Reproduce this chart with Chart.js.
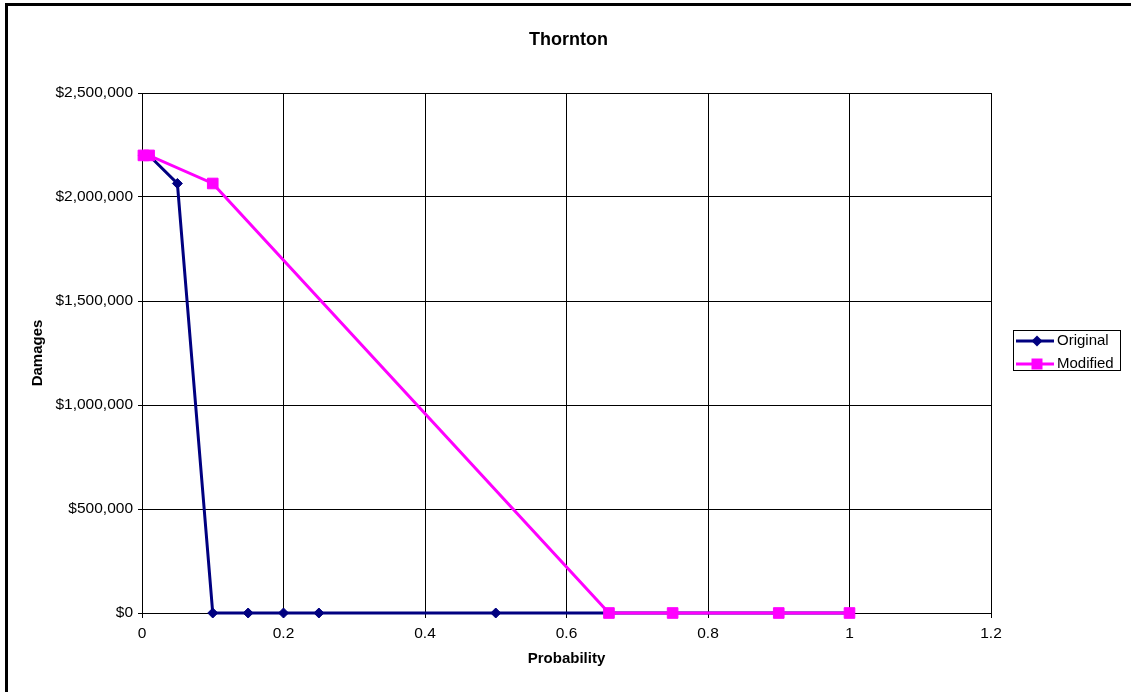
<!DOCTYPE html>
<html>
<head>
<meta charset="utf-8">
<title>Thornton</title>
<script src="https://cdn.jsdelivr.net/npm/chart.js@4.4.1/dist/chart.umd.min.js"></script>
<style>
html, body { margin: 0; padding: 0; background: #fff; overflow: hidden; }
#wrap { position: relative; width: 1131px; height: 692px; }
#frame { position: absolute; left: 5px; top: 3px; width: 1200px; height: 800px; border: 3px solid #000; box-sizing: border-box; pointer-events: none; }
</style>
</head>
<body>
<div id="wrap">
  <canvas id="myChart" width="1131" height="692"></canvas>
  <div id="frame"></div>
</div>
<script>
// values
var origProb = [0.002, 0.01, 0.05, 0.1, 0.15, 0.2, 0.25, 0.5, 0.66, 0.75, 0.9, 1];
var origDamages = [2200000, 2200000, 2065000, 0, 0, 0, 0, 0, 0, 0, 0, 0];
var modProb = [0.002, 0.01, 0.1, 0.66, 0.75, 0.9, 1];
var modDamages = [2200000, 2200000, 2065000, 0, 0, 0, 0];
var seriesNames = ['Original', 'Modified'];

function toPoints(xs, ys) {
    var pts = [];
    for (var i = 0; i < xs.length; i++) pts.push({ x: xs[i], y: ys[i] });
    return pts;
}

Chart.defaults.font.family = '"Liberation Sans", Arial, sans-serif';
Chart.defaults.color = '#000';

// excel style legend: boxed, line with marker through it
var boxLegend = {
    id: 'boxLegend',
    afterDraw: function (chart) {
        var ctx = chart.ctx;
        var left = 1013, top = 330, w = 107, h = 40;
        ctx.save();
        ctx.strokeStyle = '#000';
        ctx.lineWidth = 1;
        ctx.strokeRect(left + 0.5, top + 0.5, w, h);
        ctx.font = '15px "Liberation Sans", Arial, sans-serif';
        ctx.textBaseline = 'middle';
        ctx.textAlign = 'left';
        chart.data.datasets.forEach(function (ds, i) {
            var y = top + 11 + i * 23;
            ctx.strokeStyle = ds.borderColor;
            ctx.lineWidth = ds.borderWidth;
            ctx.beginPath();
            ctx.moveTo(left + 3, y);
            ctx.lineTo(left + 41, y);
            ctx.stroke();
            ctx.fillStyle = ds.borderColor;
            var cx = left + 24;
            ctx.beginPath();
            if (ds.pointStyle === 'rectRot') {
                ctx.moveTo(cx, y - 5.5);
                ctx.lineTo(cx + 5.5, y);
                ctx.lineTo(cx, y + 5.5);
                ctx.lineTo(cx - 5.5, y);
                ctx.closePath();
            } else {
                ctx.rect(cx - 5.5, y - 5.5, 11, 11);
            }
            ctx.fill();
            ctx.fillStyle = '#000';
            ctx.fillText(ds.label, left + 44, y);
        });
        ctx.restore();
    }
};

var ctx = document.getElementById('myChart').getContext('2d');
var myChart = new Chart(ctx, {
    type: 'line',
    data: {
        datasets: [
            {
                label: seriesNames[0],
                data: toPoints(origProb, origDamages),
                borderColor: '#000080',
                backgroundColor: '#000080',
                borderWidth: 3,
                pointStyle: 'rectRot',
                pointRadius: 5,
                pointBorderWidth: 1,
                tension: 0,
                clip: false,
                order: 1,
            },
            {
                label: seriesNames[1],
                data: toPoints(modProb, modDamages),
                borderColor: '#FF00FF',
                backgroundColor: '#FF00FF',
                borderWidth: 3,
                pointStyle: 'rect',
                pointRadius: 7.5,
                pointBorderWidth: 1,
                tension: 0,
                clip: false,
                order: 0,
            },
        ],
    },
    options: {
        responsive: false,
        animation: false,
        layout: { padding: { left: 6, right: 0, top: 0, bottom: 0 } },
        plugins: {
            legend: { display: false },
            tooltip: { enabled: false },
            title: {
                display: true,
                text: 'Thornton',
                color: '#000',
                font: { size: 18, weight: 'bold' },
                padding: { top: 29, bottom: 42.4 },
            },
        },
        scales: {
            x: {
                type: 'linear',
                min: 0,
                max: 1.2,
                afterFit: function (scale) { scale.height = 79; },
                ticks: {
                    stepSize: 0.2,
                    color: '#000',
                    font: { size: 15.5 },
                    padding: 6,
                    maxRotation: 0,
                    callback: function (v) { return Number(v.toFixed(1)).toString(); },
                },
                grid: { color: '#000', lineWidth: 1, tickLength: 5, tickColor: '#000' },
                border: { color: '#000', width: 1 },
                title: {
                    display: true,
                    text: 'Probability',
                    color: '#000',
                    font: { size: 15, weight: 'bold' },
                    padding: { top: 0, bottom: 24 },
                },
            },
            y: {
                min: 0,
                max: 2500000,
                afterFit: function (scale) { scale.width = 136; },
                ticks: {
                    stepSize: 500000,
                    color: '#000',
                    font: { size: 15.5 },
                    padding: 5,
                    callback: function (v) { return '$' + v.toLocaleString('en-US'); },
                },
                grid: { color: '#000', lineWidth: 1, tickLength: 4, tickColor: '#000' },
                border: { color: '#000', width: 1 },
                title: {
                    display: true,
                    text: 'Damages',
                    color: '#000',
                    font: { size: 15, weight: 'bold' },
                    padding: { top: 23, bottom: 0 },
                },
            },
            // empty axis that only reserves the legend column on the right
            legendSpace: {
                type: 'linear',
                position: 'right',
                min: 0,
                max: 1,
                afterFit: function (scale) { scale.width = 140; },
                ticks: { display: false },
                grid: { display: false, drawTicks: false },
                border: { display: false },
            },
        },
    },
    plugins: [boxLegend],
});
</script>
</body>
</html>
